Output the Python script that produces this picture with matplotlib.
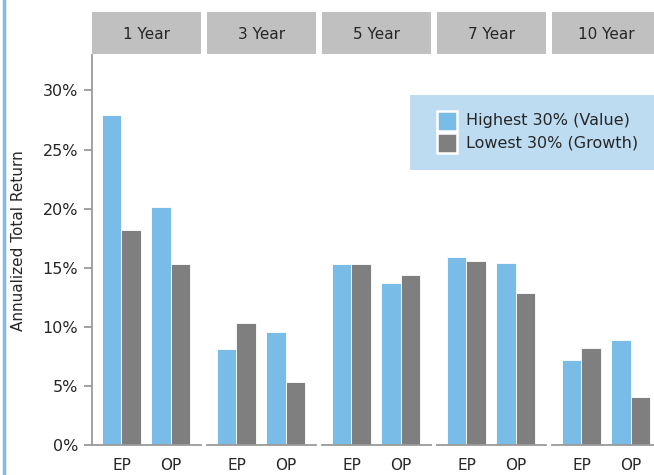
import numpy as np
import matplotlib.pyplot as plt
from matplotlib.patches import Rectangle
from matplotlib.lines import Line2D

plt.rcParams['font.family'] = ['DejaVu Sans']

periods = ['1 Year', '3 Year', '5 Year', '7 Year', '10 Year']
measures = ['EP', 'OP']
# annualized total return (%), rows = periods, cols = EP, OP
value_ret = [[27.9, 20.1], [8.1, 9.6], [15.3, 13.7], [15.9, 15.4], [7.2, 8.9]]
growth_ret = [[18.2, 15.3], [10.3, 5.3], [15.3, 14.4], [15.6, 12.9], [8.2, 4.1]]
series_names = ['Highest 30% (Value)', 'Lowest 30% (Growth)']

blue = '#7abce8'
grey = '#7f7f7f'
axis_col = '#9a9a9a'
txt_col = '#262626'
W, H = 654, 475

fig = plt.figure(figsize=(W / 100, H / 100), dpi=100)

px_left, px_w, px_gap = 92, 109, 6
y_top, y_bot = 55, 445
x = np.arange(len(measures))
bw = 0.4

for i, name in enumerate(periods):
    x0 = px_left + i * (px_w + px_gap)
    ax = fig.add_axes([x0 / W, (H - y_bot) / H, px_w / W, (y_bot - y_top) / H])
    ax.bar(x - bw / 2, value_ret[i], bw, color=blue, edgecolor='white', linewidth=0.6)
    ax.bar(x + bw / 2, growth_ret[i], bw, color=grey, edgecolor='white', linewidth=0.6)
    ax.set_xlim(-0.6, 1.62)
    ax.set_ylim(0, 33)
    ax.set_xticks(x)
    ax.set_xticklabels(measures, fontsize=11, color=txt_col)
    ax.tick_params(axis='x', length=0, pad=9)
    for s in ['top', 'right']:
        ax.spines[s].set_visible(False)
    ax.spines['bottom'].set_color(axis_col)
    ax.spines['bottom'].set_linewidth(1.3)
    if i == 0:
        ax.spines['left'].set_color(axis_col)
        ax.spines['left'].set_linewidth(1.3)
        ax.set_yticks([0, 5, 10, 15, 20, 25, 30])
        ax.set_yticklabels([f'{v}%' for v in [0, 5, 10, 15, 20, 25, 30]],
                           fontsize=11.5, color=txt_col)
        ax.tick_params(axis='y', length=6, color=axis_col, width=1.3, pad=4)
    else:
        ax.spines['left'].set_visible(False)
        ax.set_yticks([])
    # facet header
    hx = fig.add_axes([x0 / W, (H - 54) / H, px_w / W, 42 / H])
    hx.set_facecolor('#c0c0c0')
    hx.set_xticks([])
    hx.set_yticks([])
    for s in hx.spines.values():
        s.set_visible(False)
    hx.text(0.5, 0.47, name, ha='center', va='center', fontsize=11, color=txt_col,
            transform=hx.transAxes)

fig.text(19 / W, (H - 241) / H, 'Annualized Total Return', rotation=90,
         ha='center', va='center', fontsize=11, color=txt_col)

# legend box
fig.patches.append(Rectangle((410 / W, (H - 170) / H), 250 / W, 75 / H,
                             transform=fig.transFigure, facecolor='#bddcf2',
                             edgecolor='none', zorder=5))
for k, (c, lab) in enumerate(zip([blue, grey], series_names)):
    yc = 121 + k * 22
    fig.patches.append(Rectangle((437 / W, (H - yc - 10) / H), 20 / W, 20 / H,
                                 transform=fig.transFigure, facecolor=c,
                                 edgecolor='white', linewidth=1.8, zorder=6))
    fig.text(466 / W, (H - yc) / H, lab, ha='left', va='center', fontsize=11.5,
             color=txt_col, zorder=7)

# left accent line
fig.add_artist(Line2D([4 / W, 4 / W], [0, 1], transform=fig.transFigure,
                      color='#7dbde8', linewidth=2.5))

fig.savefig('out.png', dpi=100)
